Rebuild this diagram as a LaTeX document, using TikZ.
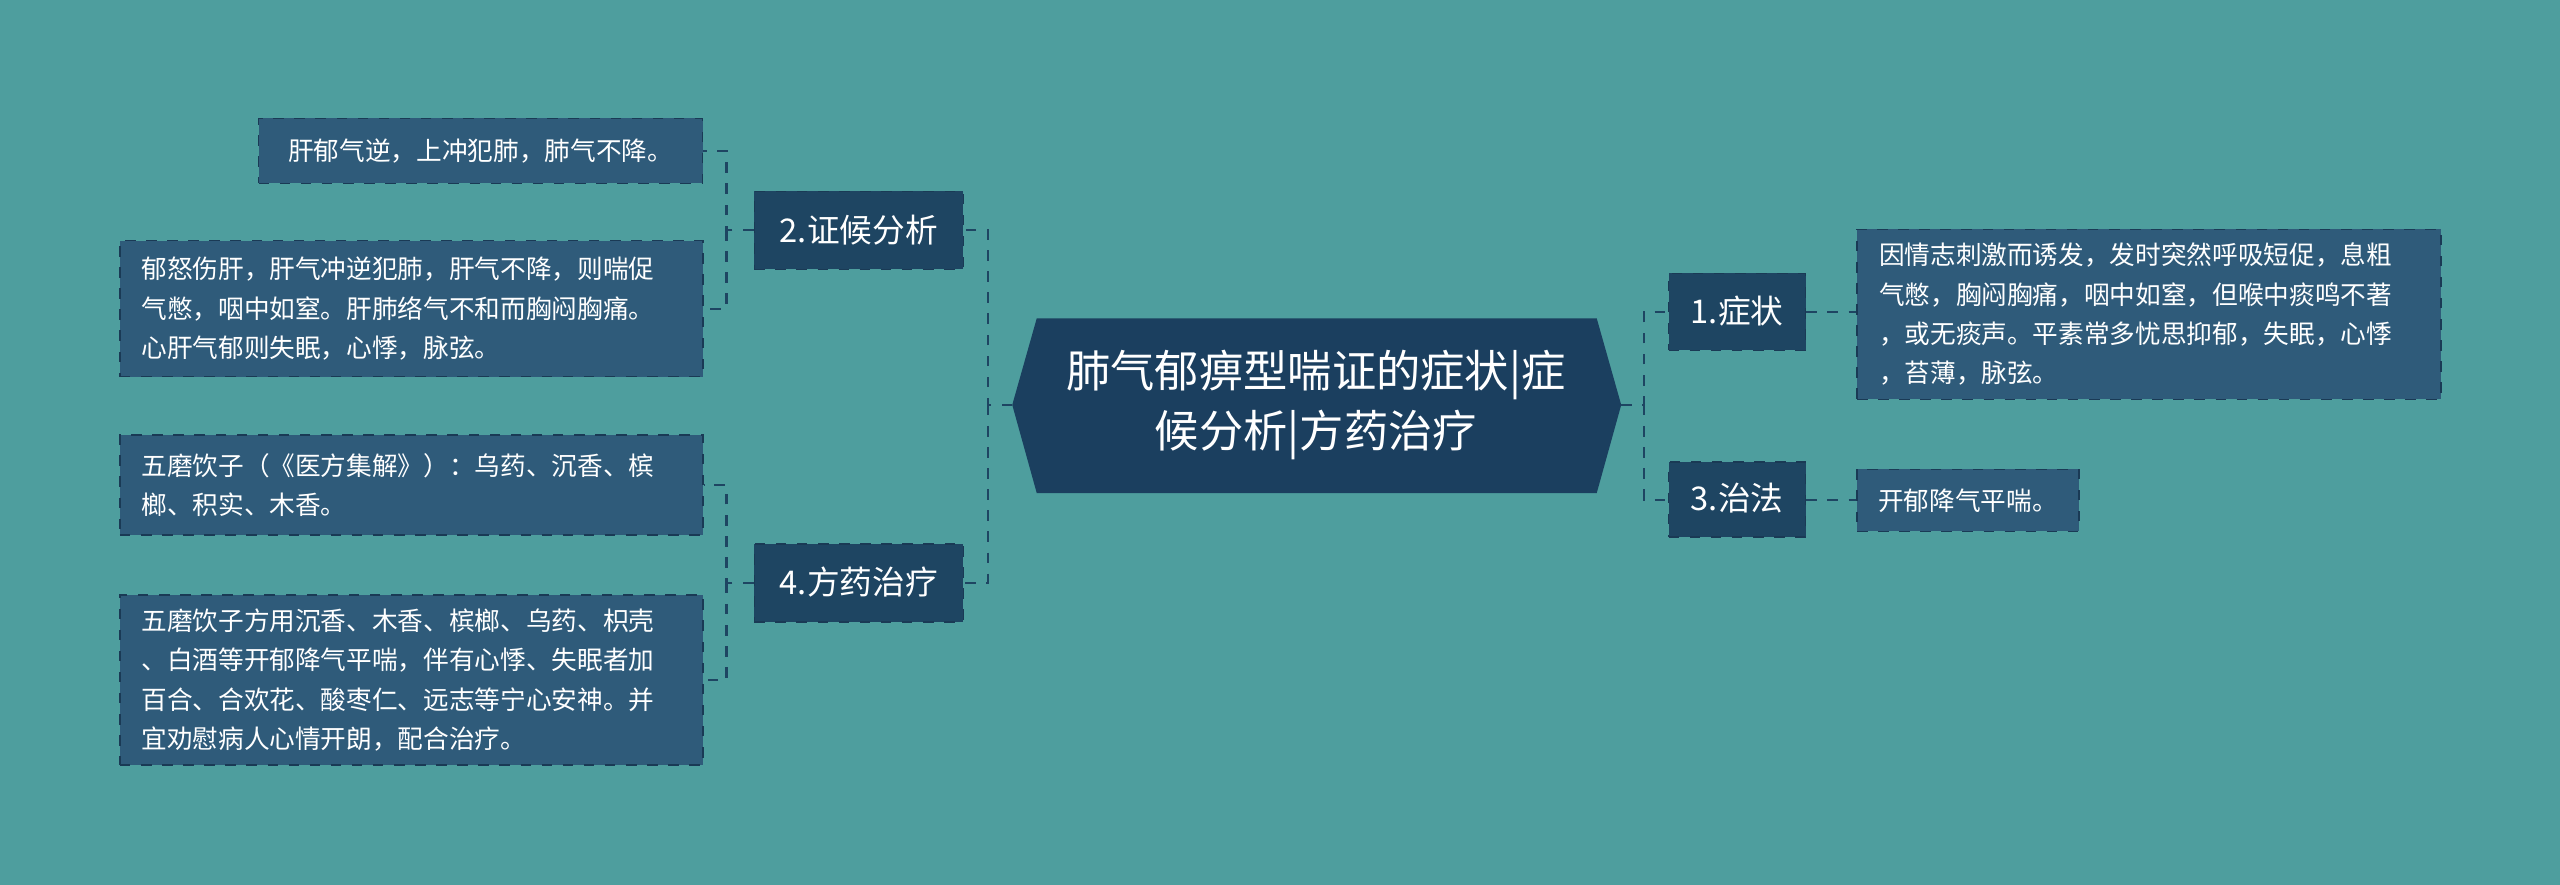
\documentclass[tikz,border=0pt]{standalone}
\usepackage{fontspec}
\setmainfont{Noto Sans CJK SC}
\begin{document}
\begin{tikzpicture}[x=0.016327cm,y=-0.016327cm,
 leaf/.style={draw=brd,dashed,fill=leafc,text=white,font=\fontsize{7.3pt}{11.2pt}\selectfont,align=left,inner sep=0pt,anchor=north west},
 lvl/.style={draw=brd,dashed,fill=lvlc,text=white,font=\fontsize{9.3pt}{11pt}\selectfont,inner sep=0pt},
 con/.style={draw=lvlc,dashed,line width=0.6pt}]
\definecolor{bg}{HTML}{4E9E9E}
\definecolor{leafc}{HTML}{2F5B7A}
\definecolor{lvlc}{HTML}{1E4562}
\definecolor{brd}{HTML}{1A3A55}
\definecolor{cen}{HTML}{1B3F5F}
\fill[bg] (0,0) rectangle (1568,542);
\useasboundingbox (0,0) rectangle (1568,542);
% central
\fill[cen] (635,195) -- (978,195) -- (993,248) -- (978,302) -- (635,302) -- (620,248) -- cycle;
\node[text=white,font=\fontsize{12.6pt}{17pt}\selectfont,align=center] (c) at (806,248) {肺气郁痹型喘证的症状|症\\候分析|方药治疗};
\coordinate (cl) at (620,248);
\coordinate (cr) at (993,248);
% level 1
\node[lvl] (n1) at (1064,191) {\makebox[1.37cm]{1.症状}\rule[-0.27cm]{0pt}{0.77cm}};
\node[lvl] (n3) at (1064,306) {\makebox[1.37cm]{3.治法}\rule[-0.27cm]{0pt}{0.75cm}};
\node[lvl] (n2) at (526,141) {\makebox[2.09cm]{2.证候分析}\rule[-0.27cm]{0pt}{0.78cm}};
\node[lvl] (n4) at (526,357) {\makebox[2.09cm]{4.方药治疗}\rule[-0.27cm]{0pt}{0.78cm}};
% leaves
\node[leaf,minimum width=4.44cm,minimum height=0.65cm,text width=4.1cm,align=center] (a1) at (158,72) {肝郁气逆，上冲犯肺，肺气不降。};
\node[leaf,minimum width=5.83cm,minimum height=1.36cm,text width=5.6cm] (a2) at (73,147) {\hspace*{0.1cm}\parbox{5.6cm}{郁怒伤肝，肝气冲逆犯肺，肝气不降，则喘促\\气憋，咽中如窒。肝肺络气不和而胸闷胸痛。\\心肝气郁则失眠，心悸，脉弦。}};
\node[leaf,minimum width=5.83cm,minimum height=1.0cm,text width=5.6cm] (b1) at (73,266) {\hspace*{0.1cm}\parbox{5.6cm}{五磨饮子（《医方集解》）：乌药、沉香、槟\\榔、积实、木香。}};
\node[leaf,minimum width=5.83cm,minimum height=1.70cm,text width=5.6cm] (b2) at (73,364) {\hspace*{0.1cm}\parbox{5.6cm}{五磨饮子方用沉香、木香、槟榔、乌药、枳壳\\、白酒等开郁降气平喘，伴有心悸、失眠者加\\百合、合欢花、酸枣仁、远志等宁心安神。并\\宜劝慰病人心情开朗，配合治疗。}};
\node[leaf,minimum width=5.84cm,minimum height=1.70cm,text width=5.6cm] (r1) at (1137,140) {\hspace*{0.1cm}\parbox{5.6cm}{因情志刺激而诱发，发时突然呼吸短促，息粗\\气憋，胸闷胸痛，咽中如窒，但喉中痰鸣不著\\，或无痰声。平素常多忧思抑郁，失眠，心悸\\，苔薄，脉弦。}};
\node[leaf,minimum width=2.22cm,minimum height=0.62cm,text width=2.1cm,align=center] (r2) at (1137,287) {开郁降气平喘。};
% connectors
\draw[con] (cl) -- (605,248) |- (n2.east);
\draw[con] (605,248) |- (n4.east);
\draw[con] (cr) -- (1007,248) |- (n1.west);
\draw[con] (1007,248) |- (n3.west);
\draw[con] (n1.east) -- (r1.west|-n1.east);
\draw[con] (n3.east) -- (r2.west|-n3.east);
\draw[con] (n2.west) -- (445,141) |- (a1.east);
\draw[con] (445,141) |- (a2.east);
\draw[con] (n4.west) -- (445,357) |- (b1.east);
\draw[con] (445,357) |- (b2.east);
\end{tikzpicture}
\end{document}
